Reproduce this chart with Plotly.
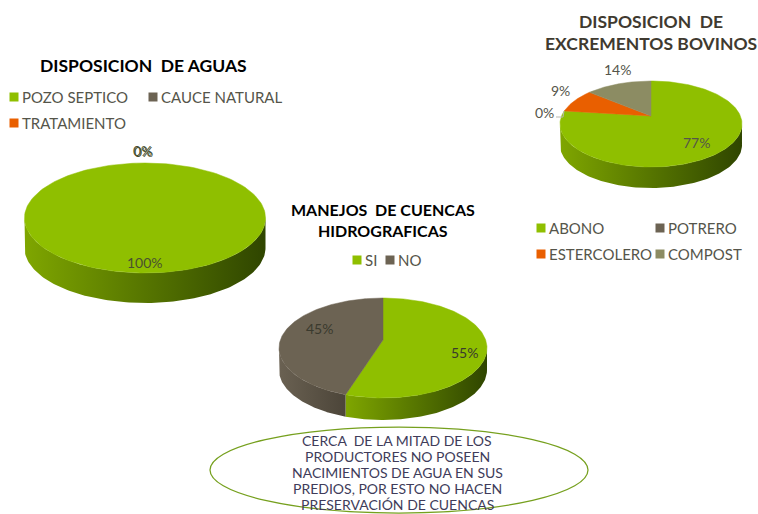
import numpy as np
import plotly.graph_objects as go

# ---- data ----
aguas_labels = ["POZO SEPTICO", "CAUCE NATURAL", "TRATAMIENTO"]
aguas_values = [100, 0, 0]
bovinos_labels = ["ABONO", "POTRERO", "ESTERCOLERO", "COMPOST"]
bovinos_values = [77, 0, 9, 14]
cuencas_labels = ["SI", "NO"]
cuencas_values = [55, 45]

# ---- styles ----
GREEN, BROWN, ORANGE, OLIVE = "#8FBF00", "#6C6353", "#E95F00", "#8C8C63"
TOP = {"POZO SEPTICO": GREEN, "CAUCE NATURAL": BROWN, "TRATAMIENTO": ORANGE,
       "ABONO": GREEN, "POTRERO": BROWN, "ESTERCOLERO": ORANGE, "COMPOST": OLIVE,
       "SI": GREEN, "NO": BROWN}
SIDE = {GREEN: [[0, "#7FA600"], [0.45, "#5A7A00"], [1, "#2F4500"]],
        BROWN: [[0, "#6A6152"], [1, "#4C4539"]],
        ORANGE: [[0, "#C04E00"], [1, "#7A3200"]],
        OLIVE: [[0, "#74744F"], [1, "#4F4F36"]]}
FONT = "Lato"
TXT = "#55554A"

fig = go.Figure()


def pie3d(labels, values, cx, cy, rx, ry, depth, tilt=0.0):
    """Perspective pie: the wheel's centre projects above the ellipse's centre."""
    total = sum(values)

    def project(deg):
        a = np.radians(deg)
        X, Z = np.sin(a), np.cos(a)
        k = 1 + tilt * Z
        return cx + rx * X * np.sqrt(1 - tilt ** 2) / k, cy - ry * (Z + tilt) / k

    apex = cy - ry * tilt
    front = np.degrees(np.arccos(-tilt))
    start = 0.0
    sides, tops = [], []
    for lab, val in zip(labels, values):
        end = start + 360.0 * val / total
        col = TOP[lab]
        if val > 0:
            x, y = project(np.linspace(start, end, 181))
            if val == total:
                tops.append((x, y, col))
            else:
                tops.append((np.r_[cx, x, cx], np.r_[apex, y, apex], col))
            lo, hi = max(start, front), min(end, 360.0 - front)
            if hi > lo:
                sx, sy = project(np.linspace(lo, hi, 121))
                sides.append((np.r_[sx, sx[::-1], sx[0]],
                               np.r_[sy, sy[::-1] + depth, sy[0]], col))
        start = end
    for x, y, col in sides:
        fig.add_trace(go.Scatter(x=x, y=y, mode="lines", line=dict(width=0), fill="toself",
                                 fillgradient=dict(type="horizontal", colorscale=SIDE[col]),
                                 hoverinfo="skip", showlegend=False))
    for x, y, col in tops:
        fig.add_trace(go.Scatter(x=x, y=y, mode="lines", line=dict(width=0.5, color=col),
                                 fill="toself", fillcolor=col, hoverinfo="skip", showlegend=False))


pie3d(aguas_labels, aguas_values, 145, 218, 120.5, 55, 30)
pie3d(bovinos_labels, bovinos_values, 651, 124, 91, 43, 21, tilt=0.186)
pie3d(cuencas_labels, cuencas_values, 383, 348, 104, 50, 22, tilt=0.16)


def text(x, y, s, size=14, color=TXT, bold=False, anchor="center"):
    fig.add_annotation(x=x, y=y, text=f"<b>{s}</b>" if bold else s, showarrow=False,
                       xanchor=anchor, yanchor="middle", borderpad=0,
                       font=dict(family=FONT, size=size, color=color))


def legend(x, y, lab, gap=7):
    fig.add_trace(go.Scatter(x=[x], y=[y], mode="markers",
                             marker=dict(symbol="square", size=9, color=TOP[lab]),
                             hoverinfo="skip", showlegend=False))
    text(x + gap, y, lab, 15, TXT, anchor="left")


# titles
text(143.5, 65, "DISPOSICION  DE AGUAS", 17.5, "#000000", True)
text(651, 21, "DISPOSICION  DE", 17.5, "#3F3A30", True)
text(651, 43, "EXCREMENTOS BOVINOS", 17.5, "#3F3A30", True)
text(383, 209, "MANEJOS  DE CUENCAS", 16, "#000000", True)
text(383, 230, "HIDROGRAFICAS", 16, "#000000", True)

# legends
for pos, lab in zip([(14, 97), (153, 97), (14, 123)], aguas_labels):
    legend(*pos, lab)
for pos, lab in zip([(541, 228), (660, 228), (541, 254), (660, 254)], bovinos_labels):
    legend(*pos, lab)
for pos, lab in zip([(357, 260), (390, 260)], cuencas_labels):
    legend(*pos, lab)

# percentage labels
for (x, y), v in zip([(145, 262), (142, 150), (143, 151)], aguas_values):
    text(x, y, f"{v}%", 14, "#4A5030")
for (x, y), v in zip([(696, 142), (544, 112), (560, 90), (617, 69)], bovinos_values):
    text(x, y, f"{v}%", 14, TXT)
for (x, y), v in zip([(464, 352), (319, 328)], cuencas_values):
    text(x, y, f"{v}%", 14, "#3A3A2E")

# leader of the 0% label
fig.add_shape(type="path", path="M 556 117 L 563 117 L 564 111", line=dict(color="#B8B8B0", width=1))

# note
fig.add_shape(type="circle", x0=210, x1=588, y0=427, y1=513,
              line=dict(color="#76A01E", width=1.25), fillcolor="white")
note = ["CERCA  DE LA MITAD DE LOS", "PRODUCTORES NO POSEEN", "NACIMIENTOS DE AGUA EN SUS",
        "PREDIOS, POR ESTO NO HACEN", "PRESERVACIÓN DE CUENCAS"]
for i, line in enumerate(note):
    text(397, 440 + i * 16.2, line, 14, "#403C5A")

fig.update_layout(width=758, height=514, margin=dict(l=0, r=0, t=0, b=0),
                  paper_bgcolor="white", plot_bgcolor="white", showlegend=False,
                  xaxis=dict(range=[0, 758], visible=False, fixedrange=True),
                  yaxis=dict(range=[514, 0], visible=False, fixedrange=True))
fig.write_html("out.html", config={"displayModeBar": False},
               post_script="document.body.style.margin='0';")
